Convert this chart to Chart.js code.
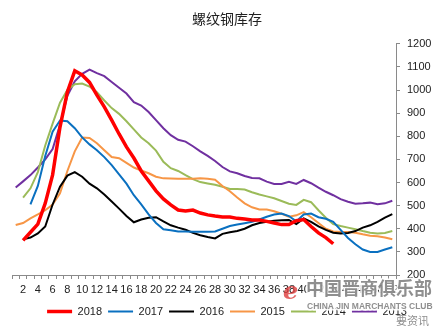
<!DOCTYPE html>
<html>
<head>
<meta charset="utf-8">
<script src="https://cdn.jsdelivr.net/npm/chart.js@4.4.0/dist/chart.umd.min.js"></script>
<style>
    html, body { margin: 0; padding: 0; background: #fff; }
</style>
</head>
<body>
<canvas id="stockChart" width="442" height="328"></canvas>
<script>
// 周数 (1~52)
const weeks = Array.from({ length: 52 }, (_, i) => String(i + 1));

// 各年度库存 (万吨)
const y2018 = [null, 350, 385, 420, 510, 633, 840, 992, 1083, 1065, 1033, 978, 927, 870, 810, 754, 706, 650, 607, 564,
    529, 503, 481, 477, 481, 468, 460, 455, 451, 451, 445, 442, 438, 438, 432, 425, 418, 418, 435, 440,
    410, 382, 362, 335, null, null, null, null, null, null, null, null];
const y2017 = [null, null, 505, 585, 715, 820, 868, 865, 835, 795, 765, 740, 710, 675, 635, 595, 545, 505, 462, 425,
    398, 394, 388, 388, 387, 387, 387, 388, 400, 412, 418, 424, 430, 440, 452, 462, 466, 455, 432, 462,
    466, 450, 443, 430, 395, 360, 333, 310, 300, 300, 310, 320];
const y2016 = [null, 355, 362, 380, 410, 505, 582, 630, 645, 625, 595, 575, 548, 518, 487, 455, 428, 440, 448, 450,
    432, 415, 405, 396, 382, 372, 364, 358, 378, 385, 390, 400, 415, 425, 430, 435, 437, 438, 420, 445,
    430, 410, 395, 383, 380, 382, 390, 405, 415, 430, 448, 463];
const y2015 = [416, 425, 445, 462, 480, 505, 553, 650, 735, 795, 793, 770, 740, 710, 705, 685, 665, 652, 640, 625,
    618, 617, 616, 616, 616, 618, 616, 612, 585, 562, 535, 510, 493, 483, 483, 476, 465, 452, 458, 472,
    450, 425, 400, 388, 386, 386, 383, 376, 370, 368, 362, 355];
const y2014 = [null, 535, 575, 645, 760, 855, 945, 1000, 1025, 1028, 1015, 990, 955, 922, 897, 865, 830, 795, 770, 738,
    690, 662, 650, 632, 615, 602, 596, 590, 582, 572, 572, 570, 558, 548, 540, 532, 520, 508, 503, 525,
    515, 480, 448, 420, 412, 405, 398, 390, 383, 380, 382, 390];
const y2013 = [578, 605, 632, 665, 700, 745, 850, 975, 1038, 1070, 1088, 1073, 1060, 1035, 1010, 985, 948, 933, 905, 870,
    835, 805, 785, 777, 757, 735, 715, 693, 667, 648, 640, 628, 620, 618, 604, 594, 594, 603, 594, 611,
    597, 578, 560, 545, 528, 517, 508, 510, 513, 506, 510, 521];

const seriesNames = ['2018', '2017', '2016', '2015', '2014', '2013'];
const seriesData = [y2018, y2017, y2016, y2015, y2014, y2013];
const seriesColors = ['#ff0000', '#0a70c0', '#000000', '#f79646', '#9bbb59', '#7030a0'];
const seriesWidths = [3.5, 2, 2, 2, 2, 2];

const axisColor = '#8a8a8a';
const textColor = '#222';
const tickFont = { family: 'Liberation Sans', size: 11 };

// 水印 (中国晋商俱乐部)
const watermark = {
    id: 'watermark',
    afterDraw(chart) {
        const ctx = chart.ctx;
        ctx.save();
        ctx.textBaseline = 'middle';
        ctx.lineJoin = 'round';
        ctx.font = 'italic bold 24px "DejaVu Serif"';
        ctx.fillStyle = 'rgba(220,60,60,0.8)';
        ctx.fillText('e', 283, 293);
        ctx.font = 'bold 18px "Noto Sans CJK SC"';
        ctx.strokeStyle = 'rgba(255,255,255,0.9)';
        ctx.lineWidth = 3;
        ctx.strokeText('中国晋商俱乐部', 306, 288);
        ctx.fillStyle = 'rgba(95,95,95,0.7)';
        ctx.fillText('中国晋商俱乐部', 306, 288);
        ctx.font = 'bold 8.5px "Liberation Sans"';
        ctx.strokeText('CHINA JIN MARCHANTS CLUB', 307, 307);
        ctx.fillText('CHINA JIN MARCHANTS CLUB', 307, 307);
        ctx.font = '11px "Noto Sans CJK SC"';
        ctx.fillText('要资讯', 396, 321);
        ctx.restore();
    }
};

const ctx = document.getElementById('stockChart').getContext('2d');
new Chart(ctx, {
    type: 'line',
    data: {
        labels: weeks,
        datasets: seriesNames.map((name, i) => ({
            label: name,
            data: seriesData[i],
            borderColor: seriesColors[i],
            backgroundColor: seriesColors[i],
            borderWidth: seriesWidths[i],
            pointRadius: 0,
            tension: 0,
            fill: false
        }))
    },
    options: {
        responsive: false,
        animation: false,
        layout: { padding: { left: 12, right: 0, top: 0, bottom: 1 } },
        plugins: {
            title: {
                display: true,
                text: '螺纹钢库存',
                color: textColor,
                font: { family: 'Noto Sans CJK SC', size: 14, weight: 'normal' },
                padding: { top: 10, bottom: 17 }
            },
            legend: {
                position: 'bottom',
                labels: {
                    usePointStyle: true,
                    pointStyle: 'line',
                    pointStyleWidth: 25,
                    boxWidth: 25,
                    padding: 6,
                    color: textColor,
                    font: tickFont
                }
            },
            tooltip: { enabled: false }
        },
        scales: {
            x: {
                offset: true,
                grid: { offset: true, drawOnChartArea: false, drawTicks: true, tickLength: 4, color: axisColor },
                border: { color: axisColor },
                ticks: {
                    autoSkip: false,
                    maxRotation: 0,
                    padding: 4,
                    color: textColor,
                    font: tickFont,
                    callback: (v, i) => ((i + 1) % 2 === 0 ? weeks[i] : '')
                },
                afterFit: s => { s.height = 25; }
            },
            y: {
                position: 'right',
                min: 200,
                max: 1200,
                grid: { drawOnChartArea: false, drawTicks: true, tickLength: 4, color: axisColor },
                border: { color: axisColor },
                ticks: { stepSize: 100, padding: 7, color: textColor, font: tickFont, callback: v => String(v) },
                afterFit: s => { s.width = 46; }
            }
        }
    },
    plugins: [watermark]
});
</script>
</body>
</html>
